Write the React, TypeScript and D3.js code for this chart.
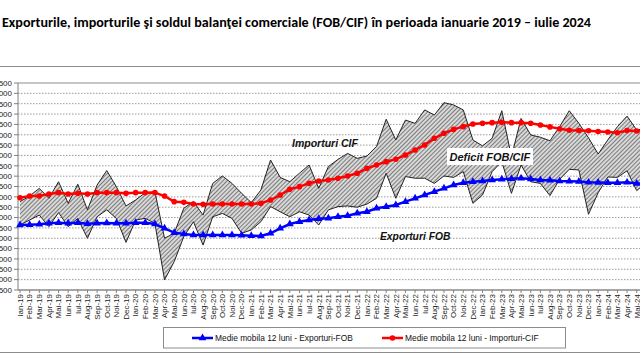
import React from 'react';
import * as d3 from 'd3';

const monthNames = ['Ian', 'Feb', 'Mar', 'Apr', 'Mai', 'Iun', 'Iul', 'Aug', 'Sep', 'Oct', 'Noi', 'Dec'];
const years = [19, 20, 21, 22, 23, 24];
const categories: string[] = [];
years.forEach((yy) => {
  monthNames.forEach((m, mi) => {
    if (yy === 24 && mi > 6) return;
    categories.push(`${m}-${yy}`);
  });
});

// Monthly exports FOB (mil. EUR)
const exportsFOB = [
  5640, 5880, 6120, 5560, 6240, 5560, 5960, 5000, 6040, 6370, 5960, 4800,
  5880, 5960, 5720, 2990, 3870, 5080, 5800, 4670, 6040, 6200, 5960, 5240,
  5400, 5800, 6530, 6280, 6040, 6280, 6120, 5640, 6370, 6530, 6560, 6500,
  6650, 6930, 8140, 6930, 7980, 7900, 7900, 7650, 8010, 7940, 8220, 6690,
  7090, 8220, 8700, 7170, 8540, 7730, 7650, 7060, 7850, 8330, 8300, 6160,
  7200, 7960, 7940, 8260, 7300, 7700, 7800,
];

// Monthly imports CIF (mil. EUR)
const importsCIF = [
  6770, 7040, 7410, 6930, 7730, 6690, 7610, 6370, 7570, 8270, 7490, 6560,
  6850, 7200, 7250, 5000, 5240, 6450, 6770, 6120, 7650, 8010, 7650, 7170,
  6720, 7330, 8780, 7940, 7730, 8140, 8540, 7410, 8460, 8810, 9100, 8860,
  8970, 9430, 10750, 9750, 10710, 10550, 11200, 10950, 11550, 11440, 11200, 9750,
  9460, 9830, 11160, 8940, 10790, 9990, 9880, 9710, 10390, 11160, 10550, 9850,
  9070, 9750, 10390, 10900, 10230, 10300, 10900,
];

// 12-month moving average, exports FOB
const maExports = [
  5640, 5656, 5672, 5721, 5753, 5721, 5753, 5705, 5721, 5737, 5721, 5721,
  5753, 5753, 5689, 5480, 5270, 5206, 5158, 5158, 5158, 5158, 5158, 5142,
  5126, 5109, 5238, 5480, 5689, 5802, 5882, 5947, 5963, 6043, 6091, 6204,
  6284, 6445, 6526, 6606, 6767, 6928, 7089, 7250, 7411, 7572, 7685, 7733,
  7765, 7814, 7846, 7878, 7894, 7862, 7814, 7800, 7760, 7750, 7740, 7700,
  7690, 7680, 7680, 7700, 7650, 7640, 7650,
];

// 12-month moving average, imports CIF
const maImports = [
  6960, 7040, 7040, 7137, 7202, 7137, 7170, 7137, 7202, 7202, 7202, 7170,
  7202, 7202, 7202, 7040, 6767, 6734, 6654, 6638, 6654, 6654, 6654, 6654,
  6654, 6686, 6847, 7089, 7363, 7492, 7653, 7765, 7814, 7895, 8008, 8137,
  8378, 8539, 8700, 8813, 9022, 9264, 9506, 9828, 10069, 10262, 10391, 10520,
  10552, 10584, 10600, 10584, 10584, 10552, 10470, 10380, 10290, 10220, 10200, 10190,
  10160, 10130, 10100, 10200, 10180, 10180, 10200,
];

const yTicks = d3.range(2500, 12501, 500);

const titleText = 'Exporturile, importurile şi soldul balanţei comerciale (FOB/CIF) în perioada ianuarie 2019 – iulie 2024';
const legendExports = 'Medie mobila 12 luni - Exporturi-FOB';
const legendImports = 'Medie mobila 12 luni - Importuri-CIF';

export default function App() {
  const W = 640;
  const H = 360;
  const plotTop = 83;
  const plotBottom = 290;
  const axisX = 18;

  const x = d3.scalePoint<string>().domain(categories).range([20, 20 + 9.636 * (categories.length - 1)]);
  const y = d3.scaleLinear().domain([2500, 12500]).range([plotBottom, plotTop]);
  const px = (i: number) => x(categories[i]) as number;

  const area = d3
    .area<number>()
    .x((_, i) => px(i))
    .y0((_, i) => y(exportsFOB[i]))
    .y1((_, i) => y(importsCIF[i]));
  const line = (arr: number[]) =>
    d3
      .line<number>()
      .x((_, i) => px(i))
      .y((d) => y(d))(arr) as string;

  const tri = d3.symbol().type(d3.symbolTriangle).size(26)() as string;
  const font = 'Arial, "Liberation Sans", sans-serif';

  return (
    <svg
      width={W}
      height={H}
      viewBox={`0 0 ${W} ${H}`}
      style={{ position: 'absolute', left: 0, top: 0, background: '#fff' }}
    >
      <defs>
        <pattern id="hatch" width="3" height="3" patternUnits="userSpaceOnUse" patternTransform="rotate(45)">
          <rect width="3" height="3" fill="#d8d8d8" />
          <line x1="0" y1="0" x2="0" y2="3" stroke="#4a4a4a" strokeWidth="1.3" />
        </pattern>
      </defs>

      <text x={2} y={26.5} fontFamily="Carlito, Lato, sans-serif" fontWeight="bold" fontSize={13} fill="#000"
        textLength={589} lengthAdjust="spacingAndGlyphs">
        {titleText}
      </text>

      {/* chart frame */}
      <line x1={0} x2={W} y1={66.5} y2={66.5} stroke="#8c8c8c" strokeWidth={1.2} />
      <line x1={0} x2={W} y1={352.5} y2={352.5} stroke="#8c8c8c" strokeWidth={1.2} />

      {/* grid */}
      {yTicks.map((t) => (
        <line
          key={`g${t}`}
          x1={axisX}
          x2={W}
          y1={y(t)}
          y2={y(t)}
          stroke={t === 12500 ? '#8c8c8c' : '#9a9a9a'}
          strokeWidth={1}
          strokeDasharray={t === 12500 || t === 2500 ? undefined : '1.5 1.5'}
        />
      ))}

      {/* y axis */}
      <line x1={axisX} x2={axisX} y1={plotTop} y2={plotBottom} stroke="#808080" strokeWidth={1} />
      {yTicks.map((t) => (
        <g key={`yt${t}`}>
          <line x1={axisX - 4} x2={axisX} y1={y(t)} y2={y(t)} stroke="#808080" />
          <text x={12} y={y(t)} dy="0.35em" textAnchor="end" fontFamily={font} fontSize={8} fill="#222">
            {t}
          </text>
        </g>
      ))}

      {/* x axis */}
      <line x1={axisX} x2={W} y1={plotBottom} y2={plotBottom} stroke="#808080" strokeWidth={1} />
      {categories.map((c, i) => (
        <g key={`xt${c}`}>
          <line x1={px(i)} x2={px(i)} y1={plotBottom} y2={plotBottom + 3} stroke="#808080" />
          <text
            transform={`translate(${px(i)},${plotBottom + 4}) rotate(-90)`}
            textAnchor="end"
            dy="0.35em"
            fontFamily={font}
            fontSize={8}
            fill="#222"
          >
            {c}
          </text>
        </g>
      ))}

      {/* deficit band */}
      <path d={area(exportsFOB) as string} fill="url(#hatch)" stroke="none" />
      <path d={line(importsCIF)} fill="none" stroke="#222" strokeWidth={1} />
      <path d={line(exportsFOB)} fill="none" stroke="#222" strokeWidth={1} />

      {/* moving averages */}
      <path d={line(maExports)} fill="none" stroke="#0000ff" strokeWidth={2.5} />
      {maExports.map((v, i) => (
        <path key={`me${i}`} d={tri} transform={`translate(${px(i)},${y(v)})`} fill="#0000ff" />
      ))}
      <path d={line(maImports)} fill="none" stroke="#ff0000" strokeWidth={2.5} />
      {maImports.map((v, i) => (
        <circle key={`mi${i}`} cx={px(i)} cy={y(v)} r={2.8} fill="#ff0000" />
      ))}

      {/* annotations */}
      <text x={292} y={146.5} fontFamily={font} fontWeight="bold" fontStyle="italic" fontSize={10.5} fill="#111">
        Importuri CIF
      </text>
      <rect x={447} y={148} width={86} height={17} fill="#fff" />
      <text x={449.5} y={160.5} fontFamily={font} fontWeight="bold" fontStyle="italic" fontSize={11} fill="#111">
        Deficit FOB/CIF
      </text>
      <text x={380} y={239.5} fontFamily={font} fontWeight="bold" fontStyle="italic" fontSize={10.3} fill="#111">
        Exporturi FOB
      </text>

      {/* legend */}
      <rect x={163.5} y={327.5} width={402} height={20.5} fill="#fff" stroke="#8c8c8c" strokeWidth={1} />
      <line x1={192} x2={213} y1={338} y2={338} stroke="#0000ff" strokeWidth={2.5} />
      <path d={tri} transform="translate(202.5,338)" fill="#0000ff" />
      <text x={215} y={341} fontFamily={font} fontSize={8.4} fill="#111">
        {legendExports}
      </text>
      <line x1={382} x2={403} y1={338} y2={338} stroke="#ff0000" strokeWidth={2.5} />
      <circle cx={392.5} cy={338} r={2.8} fill="#ff0000" />
      <text x={405} y={341} fontFamily={font} fontSize={8.4} fill="#111">
        {legendImports}
      </text>
    </svg>
  );
}
